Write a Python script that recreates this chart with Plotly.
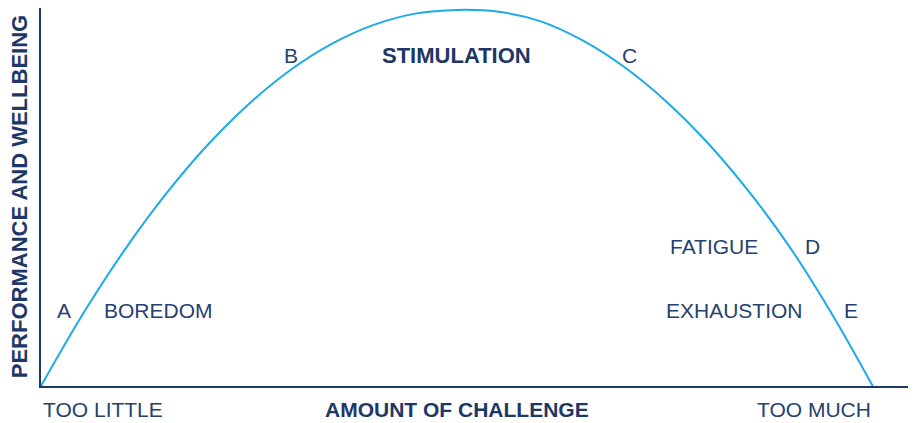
import plotly.graph_objects as go

# amount of challenge (0 = too little, 100 = too much) vs performance
challenge = [0, 5, 10, 15, 20, 25, 30, 35, 40, 45, 50,
             55, 60, 65, 70, 75, 80, 85, 90, 95, 100]
performance = [0, 19, 36, 51, 64, 75, 84, 91, 96, 99, 100,
               99.5, 97, 92, 85, 76, 65, 52, 37, 19.5, 0]

# curve labels
label_text = ["A", "BOREDOM", "B", "STIMULATION", "C",
              "FATIGUE", "D", "EXHAUSTION", "E"]
label_x = [2.8, 14.1, 30.0, 50.0, 70.8, 80.9, 92.7, 83.4, 97.4]
label_y = [20.2, 20.2, 88.0, 88.0, 88.0, 37.2, 37.2, 20.2, 20.2]
label_bold = [False, False, False, True, False, False, False, False, False]

x_title = "AMOUNT OF CHALLENGE"
y_title = "PERFORMANCE AND WELLBEING"
x_ends = ["TOO LITTLE", "TOO MUCH"]

NAVY = "#1d3866"
TEXT = "#26416f"
BLUE = "#1aabe8"
FONT = "Liberation Sans, Arial, sans-serif"

fig = go.Figure()
fig.add_trace(go.Scatter(
    x=challenge, y=performance, mode="lines",
    line=dict(color=BLUE, width=2, shape="spline", smoothing=1.0),
    hoverinfo="skip", showlegend=False,
))

for txt, x, y, bold in zip(label_text, label_x, label_y, label_bold):
    fig.add_annotation(
        x=x, y=y, text=txt, showarrow=False,
        xanchor="center", yanchor="middle",
        font=dict(family=FONT, size=22 if bold else 21,
                  color=NAVY if bold else TEXT,
                  weight="bold" if bold else "normal"),
    )

# bottom axis texts
fig.add_annotation(x=0, y=-0.061, yref="paper", text=x_ends[0], showarrow=False,
                   xanchor="left", yanchor="middle",
                   font=dict(family=FONT, size=21, color=TEXT))
fig.add_annotation(x=100, y=-0.061, yref="paper", text=x_ends[1], showarrow=False,
                   xanchor="right", yanchor="middle",
                   font=dict(family=FONT, size=21, color=TEXT))
fig.add_annotation(x=50, y=-0.061, yref="paper", text=x_title, showarrow=False,
                   xanchor="center", yanchor="middle",
                   font=dict(family=FONT, size=21, color=NAVY, weight="bold"))
fig.add_annotation(x=-0.0251, xref="paper", y=50.2, text=y_title, showarrow=False,
                   textangle=-90, xanchor="center", yanchor="middle",
                   font=dict(family=FONT, size=22, color=NAVY, weight="bold"))

# the page body adds an 8px margin, so the figure is sized/margined to fit
fig.update_layout(
    width=908, height=415,
    margin=dict(l=33, r=0, t=0, b=37),
    paper_bgcolor="white", plot_bgcolor="white",
    xaxis=dict(range=[0, 105.2], showgrid=False, zeroline=False,
               showticklabels=False, ticks="", showline=True,
               linecolor=NAVY, linewidth=2, fixedrange=True),
    yaxis=dict(range=[0, 100.5], showgrid=False, zeroline=False,
               showticklabels=False, ticks="", showline=True,
               linecolor=NAVY, linewidth=2, fixedrange=True),
)

fig.write_html("out.html", config={"displayModeBar": False})
